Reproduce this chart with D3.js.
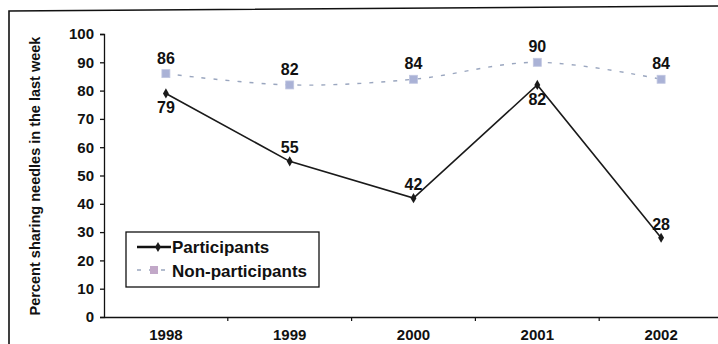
<!DOCTYPE html>
<html><head><meta charset="utf-8">
<script src="https://cdn.jsdelivr.net/npm/d3@7"></script>
<style>body{margin:0;background:#fff}svg{display:block}text{font-family:"Liberation Sans",Arial,sans-serif;font-weight:bold;fill:#111}</style>
</head><body><svg id="c" width="718" height="344"></svg>
<script>
const years = ["1998","1999","2000","2001","2002"];
const participants = [79,55,42,82,28];
const nonParticipants = [86,82,84,90,84];
const yTicks = [0,10,20,30,40,50,60,70,80,90,100];
const partLabelPos = ["below","above","above","below","above"];

const svg = d3.select("#c");
const x = d3.scaleBand().domain(years).range([104,723]);
const y = d3.scaleLinear().domain([0,100]).range([317,34]);
const cx = d => x(d)+x.bandwidth()/2;

// frame
svg.append("path").attr("d","M9,344 L9,11 L718,6").attr("fill","none").attr("stroke","#111").attr("stroke-width",1.6);

// y axis
const ya = svg.append("g").attr("transform","translate(104,0)").call(d3.axisLeft(y).tickValues(yTicks).tickSize(4).tickPadding(6));
ya.selectAll("path,line").attr("stroke","#111").attr("stroke-width",1.3);
ya.selectAll("text").style("font-size","15px").style("font-family","Liberation Sans, Arial").style("font-weight","bold").attr("fill","#111");
// x axis
const xa = svg.append("g").attr("transform","translate(0,317)").call(d3.axisBottom(x).tickSize(0).tickPadding(12));
xa.select("path").attr("stroke","#111").attr("stroke-width",1.6);
xa.selectAll("text").style("font-size","15px").style("font-family","Liberation Sans, Arial").style("font-weight","bold").attr("fill","#111");
svg.append("g").selectAll("line").data(years.slice(1)).join("line")
  .attr("x1",d=>x(d)).attr("x2",d=>x(d)).attr("y1",317).attr("y2",321).attr("stroke","#111").attr("stroke-width",1.2);

// axis title
svg.append("text").attr("transform","translate(40,176) rotate(-90)").attr("text-anchor","middle")
  .style("font-size","14.5px").text("Percent sharing needles in the last week");

// non-participants
const npData = years.map((d,i)=>({d,v:nonParticipants[i]}));
svg.append("path").datum(npData).attr("fill","none").attr("stroke","#9aa6bf").attr("stroke-width",1.4)
  .attr("stroke-dasharray","4,8")
  .attr("d", d3.line().x(p=>cx(p.d)).y(p=>y(p.v)).curve(d3.curveCatmullRom));
svg.append("g").selectAll("rect").data(npData).join("rect")
  .attr("x",p=>cx(p.d)-4).attr("y",p=>y(p.v)-4).attr("width",8).attr("height",8)
  .attr("fill","#aab2d6").attr("stroke","#c0c6e0").attr("stroke-width",0.8);
svg.append("g").selectAll("text").data(npData).join("text")
  .attr("x",p=>cx(p.d)).attr("y",p=>y(p.v)-10).attr("text-anchor","middle").style("font-size","16px").text(p=>p.v);

// participants
const pData = years.map((d,i)=>({d,v:participants[i],pos:partLabelPos[i]}));
svg.append("path").datum(pData).attr("fill","none").attr("stroke","#1a1a1a").attr("stroke-width",1.6)
  .attr("d", d3.line().x(p=>cx(p.d)).y(p=>y(p.v)));
svg.append("g").selectAll("path").data(pData).join("path")
  .attr("transform",p=>`translate(${cx(p.d)},${y(p.v)})`)
  .attr("d",d3.symbol(d3.symbolDiamond,30)).attr("fill","#1a1a1a");
svg.append("g").selectAll("text").data(pData).join("text")
  .attr("x",p=>cx(p.d)).attr("y",p=>p.pos==="below"?y(p.v)+20:y(p.v)-8).attr("text-anchor","middle").style("font-size","16px").text(p=>p.v);

// legend
const lg = svg.append("g");
lg.append("rect").attr("x",126).attr("y",232).attr("width",193).attr("height",55).attr("fill","#fff").attr("stroke","#111").attr("stroke-width",1.3);
lg.append("line").attr("x1",137).attr("x2",171).attr("y1",247).attr("y2",247).attr("stroke","#111").attr("stroke-width",2.5);
lg.append("path").attr("transform","translate(158,247)").attr("d",d3.symbol(d3.symbolDiamond,30)).attr("fill","#1a1a1a");
lg.append("text").attr("x",172).attr("y",253).style("font-size","17px").text("Participants");
lg.append("line").attr("x1",137).attr("x2",171).attr("y1",270).attr("y2",270).attr("stroke","#9aa6bf").attr("stroke-width",1.4).attr("stroke-dasharray","4,8");
lg.append("rect").attr("x",150).attr("y",266).attr("width",8).attr("height",8).attr("fill","#c2a8c8");
lg.append("text").attr("x",172).attr("y",277).style("font-size","17px").text("Non-participants");
</script></body></html>
